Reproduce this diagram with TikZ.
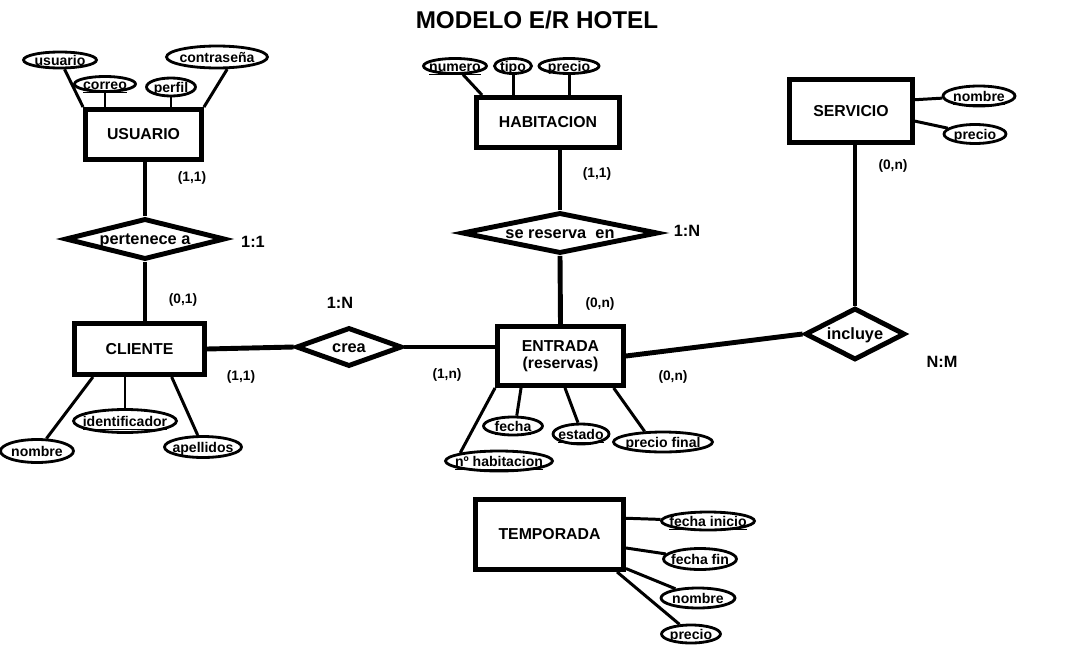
\documentclass[tikz,border=0pt]{standalone}
\usepackage{fontspec}
\setmainfont{Liberation Sans}
\usepackage{tikz}
\usetikzlibrary{shapes,positioning}

\tikzset{
  entidad/.style={draw, line width=2.8pt, rectangle, align=center, font=\bfseries\fontsize{9}{10}\selectfont},
  relacion/.style={draw, line width=2.8pt, diamond, inner sep=0pt, text height=1.5ex, text depth=0.25ex, font=\bfseries\fontsize{9.3}{11}\selectfont},
  atributo/.style={draw, line width=1.6pt, ellipse, inner sep=0pt},
  atrib/.style={anchor=center, inner sep=0pt, text height=1.5ex, text depth=0.25ex, font=\bfseries\fontsize{8}{9}\selectfont},
  card/.style={font=\bfseries\fontsize{7.8}{9}\selectfont},
  razon/.style={font=\bfseries\fontsize{9.3}{11}\selectfont},
  enlace/.style={line width=2.8pt},
  linea/.style={line width=1.7pt}
}

\begin{document}
\begin{tikzpicture}[x=0.02cm, y=-0.02cm]
  \useasboundingbox (0,0) rectangle (1078,659);
  \node[font=\bfseries\fontsize{13.8}{16}\selectfont] (titulo) at (537,20) {MODELO E/R HOTEL};

  % entidades
  \node[entidad, minimum width=2.32cm, minimum height=1.0cm] (usuario) at (143.5,134.5) {USUARIO};
  \node[entidad, minimum width=2.6cm, minimum height=1.02cm] (cliente) at (139.5,349) {CLIENTE};
  \node[entidad, minimum width=2.86cm, minimum height=1.0cm] (habitacion) at (548,122.5) {HABITACION};
  \node[entidad, minimum width=2.52cm, minimum height=1.18cm] (entrada) at (560.5,356) {ENTRADA\\(reservas)};
  \node[entidad, minimum width=2.46cm, minimum height=1.26cm] (servicio) at (851,111) {SERVICIO};
  \node[entidad, minimum width=2.96cm, minimum height=1.4cm] (temporada) at (549.5,534.5) {TEMPORADA};

  % relaciones
  \node[relacion, aspect=3.9, minimum width=3.2cm, minimum height=0.82cm] (pertenece) at (145,239) {pertenece a};
  \node[relacion, aspect=4.8, minimum width=3.92cm, minimum height=0.82cm] (reserva) at (560,233) {se reserva\ \ en};
  \node[relacion, aspect=2.7, minimum width=2.12cm, minimum height=0.78cm] (crea) at (349,347) {crea};
  \node[relacion, aspect=1.9, minimum width=2.0cm, minimum height=1.04cm] (incluye) at (855,334) {incluye};

  % atributos usuario
  \node[atributo, minimum width=1.46cm, minimum height=0.32cm, label={[atrib]center:usuario}] (usuNombre) at (60,60) {};
  \node[atributo, minimum width=1.22cm, minimum height=0.30cm, label={[atrib]center:\underline{correo}}] (usuCorreo) at (105,84) {};
  \node[atributo, minimum width=0.98cm, minimum height=0.36cm, label={[atrib]center:perfil}] (usuPerfil) at (171,87) {};
  \node[atributo, minimum width=2.02cm, minimum height=0.44cm, label={[atrib]center:contraseña}] (usuPass) at (217,57) {};

  % atributos habitacion
  \node[atributo, minimum width=1.26cm, minimum height=0.30cm, label={[atrib]center:\underline{numero}}] (habNumero) at (455,66) {};
  \node[atributo, minimum width=0.74cm, minimum height=0.30cm, label={[atrib]center:tipo}] (habTipo) at (513,66) {};
  \node[atributo, minimum width=1.2cm, minimum height=0.30cm, label={[atrib]center:precio}] (habPrecio) at (569,66) {};

  % atributos servicio
  \node[atributo, minimum width=1.44cm, minimum height=0.40cm, label={[atrib]center:\underline{nombre}}] (serNombre) at (979,96) {};
  \node[atributo, minimum width=1.24cm, minimum height=0.38cm, label={[atrib]center:precio}] (serPrecio) at (975,134) {};

  % atributos cliente
  \node[atributo, minimum width=1.46cm, minimum height=0.46cm, label={[atrib]center:nombre}] (cliNombre) at (37,451) {};
  \node[atributo, minimum width=2.06cm, minimum height=0.46cm, label={[atrib]center:\underline{identificador}}] (cliId) at (125,421) {};
  \node[atributo, minimum width=1.54cm, minimum height=0.42cm, label={[atrib]center:apellidos}] (cliApellidos) at (203,447) {};

  % atributos entrada
  \node[atributo, minimum width=1.18cm, minimum height=0.36cm, label={[atrib]center:\underline{fecha}}] (entFecha) at (513,426) {};
  \node[atributo, minimum width=1.12cm, minimum height=0.40cm, label={[atrib]center:\underline{estado}}] (entEstado) at (581,434) {};
  \node[atributo, minimum width=1.98cm, minimum height=0.40cm, label={[atrib]center:precio final}] (entPrecio) at (663,442) {};
  \node[atributo, minimum width=2.14cm, minimum height=0.40cm, label={[atrib]center:\underline{nº habitacion}}] (entHab) at (499,461) {};

  % atributos temporada
  \node[atributo, minimum width=1.86cm, minimum height=0.36cm, label={[atrib]center:\underline{fecha inicio}}] (tmpInicio) at (708,521) {};
  \node[atributo, minimum width=1.46cm, minimum height=0.42cm, label={[atrib]center:fecha fin}] (tmpFin) at (700,559) {};
  \node[atributo, minimum width=1.48cm, minimum height=0.40cm, label={[atrib]center:nombre}] (tmpNombre) at (698,598) {};
  \node[atributo, minimum width=1.18cm, minimum height=0.36cm, label={[atrib]center:precio}] (tmpPrecio) at (691,634) {};

  % lineas de atributos
  \draw[linea] (usuNombre) -- (usuario.north west);
  \draw[linea] (usuCorreo) -- (usuCorreo |- usuario.north);
  \draw[linea] (usuPerfil) -- (usuPerfil |- usuario.north);
  \draw[linea] (usuPass.-50) -- (usuario.north east);
  \draw[linea] (habNumero) -- ([xshift=0.16cm]habitacion.north west);
  \draw[linea] (habTipo) -- (habTipo |- habitacion.north);
  \draw[linea] (habPrecio) -- (habPrecio |- habitacion.north);
  \draw[linea] (serNombre) -- (servicio.10);
  \draw[linea] (serPrecio) -- (servicio.-9);
  \draw[linea] (cliNombre) -- (cliente.-149);
  \draw[linea] (cliId) -- (cliId |- cliente.south);
  \draw[linea] (cliApellidos) -- (cliente.-41);
  \draw[linea] (entHab.north west) -- (entrada.south west);
  \draw[linea] (entFecha.70) -- (entrada.-141);
  \draw[linea] (entEstado.105) -- (entrada.-82);
  \draw[linea] (entPrecio.150) -- (entrada.-31);
  \draw[linea] (tmpInicio) -- (temporada.12);
  \draw[linea] (tmpFin) -- (temporada.-10);
  \draw[linea] (tmpNombre) -- (temporada.-24);
  \draw[linea] (tmpPrecio) -- (temporada.-29);

  % relaciones con entidades
  \draw[enlace] (pertenece.north) -- (pertenece.north |- usuario.south);
  \draw[enlace] (pertenece.south) -- (pertenece.south |- cliente.north);
  \draw[enlace] (cliente.east) -- (crea.west);
  \draw[enlace] (crea.east) -- (crea.east -| entrada.west);
  \draw[enlace] (reserva.north) -- (reserva.north |- habitacion.south);
  \draw[enlace] (reserva.south) -- (entrada.north);
  \draw[enlace] (entrada.east) -- (incluye.west);
  \draw[enlace] (incluye.north) -- (incluye.north |- servicio.south);

  % cardinalidades
  \node[card] (cUsu) at (192,178) {(1,1)};
  \node[razon] (rPertenece) at (253,242) {1:1};
  \node[card] (cCliU) at (183,300) {(0,1)};
  \node[card] (cCliC) at (241,377) {(1,1)};
  \node[razon] (rCrea) at (340,303) {1:N};
  \node[card] (cEntC) at (447,375) {(1,n)};
  \node[card] (cHab) at (597,174) {(1,1)};
  \node[razon] (rReserva) at (687,231) {1:N};
  \node[card] (cEntR) at (600,304) {(0,n)};
  \node[card] (cEntI) at (673,377) {(0,n)};
  \node[card] (cSer) at (893,166) {(0,n)};
  \node[razon] (rIncluye) at (942,362) {N:M};
\end{tikzpicture}
\end{document}
